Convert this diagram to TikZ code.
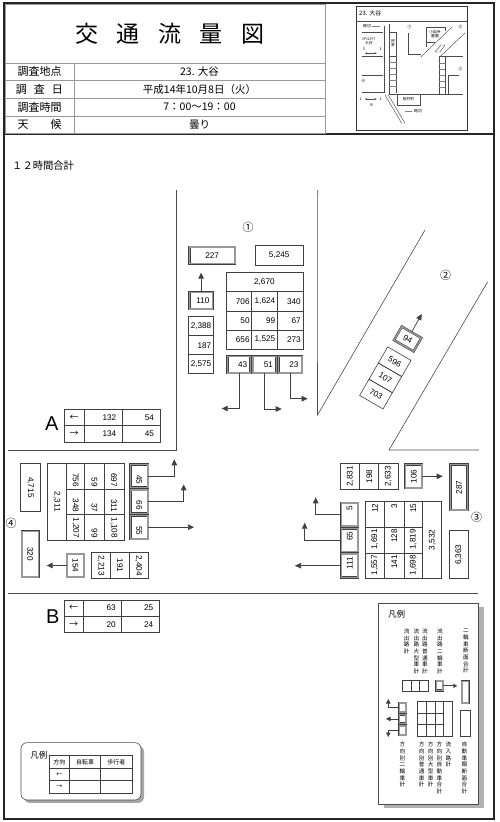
\documentclass[tikz,border=0pt]{standalone}
\usepackage{fontspec}
\setmainfont{Liberation Sans}
\newfontfamily\jp{Noto Sans CJK JP}
\usetikzlibrary{arrows.meta, positioning, shadows}

\begin{document}
\begin{tikzpicture}[
    x=1pt, y=1pt,
    cell/.style 2 args={rectangle, draw=black!75, line width=0.6pt, outer sep=0pt, inner sep=0pt, minimum width=#1, minimum height=#2, align=center, font=\fontsize{8.2}{10}\selectfont},
    rcell/.style 2 args={cell={#1}{#2}, text width=#1-4, align=right},
    tabcell/.style 2 args={cell={#1}{#2}, text width=#1-12, align=right},
    dbl/.style 2 args={cell={#1-2.4}{#2-2.4}, line width=0.5pt, double=black!40, double distance=1.4pt},
    rdbl/.style 2 args={dbl={#1}{#2}, text width=#1-9, align=right},
    headcell/.style 2 args={rectangle, draw=black!40, line width=0.5pt, outer sep=0pt, inner sep=0pt, minimum width=#1, minimum height=#2, align=center, font=\jp\fontsize{10.5}{12}\selectfont},
    labelcell/.style={headcell={69}{#1}, font=\jp\fontsize{11}{13}\selectfont\spaceskip 7pt\relax},
    arrow/.style={-{Triangle[length=6pt,width=5.5pt]}, line width=0.7pt, draw=black!75},
    road/.style={line width=0.6pt, draw=black!70},
    maplabel/.style={inner sep=0pt, align=center, font=\jp\fontsize{3.8}{4.6}\selectfont},
    mapline/.style={line width=0.45pt, draw=black!70},
    rung/.style={line width=0.3pt, draw=black!50},
    circled/.style={inner sep=0pt, font=\jp\fontsize{11}{11}\selectfont},
    letter/.style={inner sep=0pt, font=\fontsize{20}{20}\selectfont},
    vtext/.style={anchor=north, inner sep=0pt, align=center, font=\jp\fontsize{5.6}{6.7}\selectfont},
    small/.style 2 args={cell={#1}{#2}, line width=0.5pt, font=\jp\fontsize{6}{7}\selectfont},
    turncw/.style={rotate=-90},
    turnccw/.style={rotate=90}
]

\useasboundingbox (0,0) rectangle (500,-822);

% Frame
\node[rectangle, draw=black!85, line width=1.3pt, minimum width=490, minimum height=816, outer sep=0pt] (frame) at (249,-411) {};
\coordinate (rule_left) at (4,-134);
\coordinate (rule_right) at (494,-134);
\draw[draw=black!85, line width=1.1pt] (rule_left) -- (rule_right);

% Header
\node[headcell={320}{59}, anchor=north west, font=\jp\fontsize{23}{26}\selectfont\spaceskip 18.5pt\relax] (title) at (5,-4) {\hspace*{10pt}交 通 流 量 図};
\node[labelcell=17.5, below right=0pt and 0pt of title.south west] (lab_place) {調査地点};
\node[labelcell=17.5, below=0pt of lab_place] (lab_date) {調 査 日};
\node[labelcell=18, below=0pt of lab_date] (lab_time) {調査時間};
\node[labelcell=17, below=0pt of lab_time] (lab_sky) {天　　候};
\node[headcell={251}{17.5}, right=0pt of lab_place] (val_place) {23. 大谷};
\node[headcell={251}{17.5}, right=0pt of lab_date] (val_date) {平成14年10月8日（火）};
\node[headcell={251}{18}, right=0pt of lab_time] (val_time) {7：00～19：00};
\node[headcell={251}{17}, right=0pt of lab_sky] (val_sky) {曇り};
\node[anchor=west, inner sep=0pt, font=\jp\fontsize{10.3}{12}\selectfont] (sum_title) at (12,-165.7) {１２時間合計};

% Location map
\node[rectangle, draw=black!80, line width=0.7pt, minimum width=111, minimum height=124, outer sep=0pt] (map) at (411.5,-68) {};
\draw[mapline] (356,-21) -- (467,-21);
\node[anchor=west, inner sep=0pt, font=\jp\fontsize{6}{7}\selectfont] (map_name) at (359,-13.5) {23. 大谷};
\draw[mapline] (361.7,-32.7) -- (383.3,-32.7) (361.7,-75) -- (383.3,-75) (361.7,-92.7) -- (384,-92.7);
\draw[mapline, line width=0.9pt] (361.7,-56.7) -- (383.3,-56.7);
\draw[mapline] (384,-26) -- (384,-92.7) (389,-24) -- (389,-94.3);
\draw[mapline] (389.3,-32.7) rectangle (396.7,-56.7);
\draw[mapline] (396.7,-56.7) -- (396.7,-93);
\draw[rung] (389,-62) -- (396.7,-62) (389,-68) -- (396.7,-68) (389,-74) -- (396.7,-74) (389,-80) -- (396.7,-80) (389,-86) -- (396.7,-86);
\draw[mapline] (408.3,-33) -- (408.3,-54) -- (420.7,-54);
\draw[mapline] (420.7,-57) -- (451.7,-27.3) (440,-56.7) -- (465,-33);
\draw[mapline] (426,-47) -- (426,-27.5) -- (445,-27.5) -- (445,-31);
\draw[mapline] (426,-42) -- (435,-42);
\draw[mapline] (435,-52) -- (441,-45) -- (445,-45) -- (440,-52) -- cycle;
\draw[mapline] (439.3,-56.7) -- (463.3,-56.7);
\draw[mapline] (439.3,-56.7) -- (439.3,-94) (445,-56.7) -- (445,-94);
\draw[rung] (439.3,-63) -- (445,-63) (439.3,-69) -- (445,-69) (439.3,-75) -- (445,-75) (439.3,-81) -- (445,-81) (439.3,-87) -- (445,-87);
\draw[mapline] (448.3,-94) -- (448.3,-75) -- (459.3,-75);
\draw[mapline] (389,-94.3) -- (463.3,-94.3);
\draw[mapline] (397.3,-94.3) -- (397.3,-105.3) -- (420.7,-105.3) -- (420.7,-94.3);
\draw[mapline] (385,-95) -- (401.7,-123.3) (388.3,-95) -- (405,-123.3);
\draw[rung] (405,-111) -- (412,-111);
\draw[rung] (372,-26.5) -- (380,-26.5);
\draw[mapline, line width=0.4pt, {Stealth[length=2pt,width=2pt]}-{Stealth[length=2pt,width=2pt]}] (365,-99) -- (376.7,-99);
\draw[mapline, line width=0.4pt, {Stealth[length=2pt,width=2pt]}-{Stealth[length=2pt,width=2pt]}] (365,-53.3) -- (376.7,-53.3);
\node[maplabel] (map_a) at (371,-26) {踏切\hspace{8pt}};
\node[maplabel, anchor=west] (map_b) at (362,-41) {ﾊﾔｼﾑﾗｲﾌ\\大谷};
\node[maplabel] (map_n3) at (364,-49.3) {3};
\node[maplabel] (map_n1) at (380.7,-49.3) {1};
\node[maplabel] (map_n2) at (360.7,-99) {2};
\node[maplabel] (map_n1b) at (380.7,-99) {1};
\node[maplabel] (map_mark_b) at (371.7,-105) {B};
\node[maplabel] (map_house) at (393,-43) {民\\家};
\node[maplabel] (map_temple) at (435,-34) {小岩寺\\墓園};
\node[maplabel] (map_town) at (408.5,-99) {桜井町};
\node[maplabel] (map_cross) at (418,-111) {踏切};
\node[maplabel] (map_c1) at (409.5,-27.5) {①};
\node[maplabel] (map_c2) at (460.5,-27.5) {②};
\node[maplabel] (map_c3) at (460.5,-69.5) {③};
\node[maplabel] (map_c4) at (363.5,-81) {④};

% Roads
\draw[road] (176,-190) -- (176,-450) -- (8,-450);
\draw[road] (317.7,-190) -- (317.5,-415) -- (425,-230);
\draw[road] (487.7,-281.7) -- (389,-450) -- (479,-450);
\draw[road] (8,-593) -- (478,-593);

% Approach 1
\node[circled] (no1) at (248,-227) {①};
\node[dbl={47.7}{19.3}] (in227) at (212.2,-255.3) {227};
\node[cell={48.3}{19.3}] (cross5245) at (279.2,-255.3) {5,245};
\node[rdbl={25.7}{19}] (bike110) at (201.1,-300.5) {110};
\node[rcell={25}{19}] (out2388) at (200.8,-326.2) {2,388};
\node[rcell={25}{19}, below=0pt of out2388] (out187) {187};
\node[rcell={25}{19}, below=0pt of out187] (out2575) {2,575};
\node[cell={76.8}{19}] (in2670) at (264.4,-282.2) {2,670};
\node[rcell={25.6}{19.1}, below right=0pt and 0pt of in2670.south west] (a706) {706};
\node[rcell={25.6}{19.1}, right=0pt of a706] (a1624) {1,624};
\node[rcell={25.6}{19.1}, right=0pt of a1624] (a340) {340};
\node[rcell={25.6}{19.1}, below=0pt of a706] (a50) {50};
\node[rcell={25.6}{19.1}, right=0pt of a50] (a99) {99};
\node[rcell={25.6}{19.1}, right=0pt of a99] (a67) {67};
\node[rcell={25.6}{19.1}, below=0pt of a50] (a656) {656};
\node[rcell={25.6}{19.1}, right=0pt of a656] (a1525) {1,525};
\node[rcell={25.6}{19.1}, right=0pt of a1525] (a273) {273};
\node[rdbl={25.6}{19}] (b43) at (239,-364.5) {43};
\node[rdbl={25.6}{19}] (b51) at (264.6,-364.5) {51};
\node[rdbl={25.6}{19}] (b23) at (290.2,-364.5) {23};
\coordinate (to110) at (201.1,-272.7);
\coordinate (to43) at (221.7,-408.5);
\coordinate (to51) at (281.7,-409);
\coordinate (to23) at (307.7,-398.7);
\draw[arrow] (bike110.north) -- (to110);
\draw[arrow] (b43.south) |- (to43);
\draw[arrow] (b51.south) |- (to51);
\draw[arrow] (b23.south) |- (to23);

% Approach 2
\node[circled] (no2) at (445.5,-275) {②};
\node[dbl={25}{18}, rotate=-30] (b94) at (407.7,-339) {94};
\node[cell={27}{18.7}, rotate=-30] (c596) at (394.7,-361.7) {596};
\node[cell={27}{18.7}, rotate=-30, anchor=north] (c107) at (c596.south) {107};
\node[cell={27}{18.7}, rotate=-30, anchor=north] (c703) at (c107.south) {703};
\coordinate (to94) at (421.7,-314);
\draw[arrow] (b94.north) -- (to94);

% Table A
\node[letter] (mark_a) at (51.7,-424) {A};
\node[cell={19.7}{16.3}, anchor=north west, font=\jp\fontsize{9}{10}\selectfont] (a_left) at (64.3,-409.3) {←};
\node[tabcell={38.3}{16.3}, right=0pt of a_left] (a_left1) {132};
\node[tabcell={37.7}{16.3}, right=0pt of a_left1] (a_left2) {54};
\node[cell={19.7}{16.3}, below=0pt of a_left, font=\jp\fontsize{9}{10}\selectfont] (a_right) {→};
\node[tabcell={38.3}{16.3}, right=0pt of a_right] (a_right1) {134};
\node[tabcell={37.7}{16.3}, right=0pt of a_right1] (a_right2) {45};

% Approach 4
\node[circled] (no4) at (11,-523) {④};
\node[cell={48}{19.3}, turncw] (cross4715) at (30.3,-487.3) {4,715};
\node[dbl={48.3}{19.3}, turncw] (in320) at (30.3,-554.2) {320};
\node[cell={76.7}{19.4}, turncw] (in2311) at (57,-501.7) {2,311};
\node[rcell={25.6}{18}, turncw] (d756) at (75.7,-476) {756};
\node[rcell={25.6}{19.3}, turncw] (d59) at (94.35,-476) {59};
\node[rcell={25.6}{20}, turncw] (d697) at (114,-476) {697};
\node[rcell={25.6}{18}, turncw] (d348) at (75.7,-501.6) {348};
\node[rcell={25.6}{19.3}, turncw] (d37) at (94.35,-501.6) {37};
\node[rcell={25.6}{20}, turncw] (d311) at (114,-501.6) {311};
\node[rcell={25.6}{18}, turncw] (d1207) at (75.7,-527.2) {1,207};
\node[rcell={25.6}{19.3}, turncw] (d99) at (94.35,-527.2) {99};
\node[rcell={25.6}{20}, turncw] (d1108) at (114,-527.2) {1,108};
\node[rdbl={25.6}{19.7}, turncw] (e45) at (139.2,-476) {45};
\node[rdbl={25.6}{19.7}, turncw] (e66) at (139.2,-501.6) {66};
\node[rdbl={25.6}{19.7}, turncw] (e55) at (139.2,-527.2) {55};
\node[dbl={25.6}{19.6}, turncw] (e154) at (75.5,-565.5) {154};
\node[cell={25.6}{19.4}, turncw] (f2213) at (101,-565.5) {2,213};
\node[cell={25.6}{18.6}, turncw] (f191) at (120,-565.5) {191};
\node[cell={25.6}{19}, turncw] (f2404) at (138.8,-565.5) {2,404};
\coordinate (to45) at (174.3,-459.3);
\coordinate (to66) at (183.7,-484.3);
\coordinate (to55) at (194,-527.2);
\coordinate (to154) at (46.7,-565.5);
\draw[arrow] (e45.north) -| (to45);
\draw[arrow] (e66.north) -| (to66);
\draw[arrow] (e55.north) -- (to55);
\draw[arrow] (e154.south) -- (to154);

% Approach 3
\node[circled] (no3) at (476.7,-517.7) {③};
\node[cell={26}{19}, turnccw] (g2831) at (350.2,-476.3) {2,831};
\node[cell={26}{19}, turnccw] (g198) at (369.2,-476.3) {198};
\node[cell={26}{19.3}, turnccw] (g2633) at (388.3,-476.3) {2,633};
\node[dbl={26}{19.3}, turnccw] (h106) at (413.7,-476.3) {106};
\node[dbl={48}{19.4}, turnccw] (in287) at (459,-487.3) {287};
\node[cell={48}{18.7}, turnccw] (cross6363) at (458.7,-554.7) {6,363};
\node[rcell={25.6}{19.7}, turnccw] (k12) at (374.9,-514.5) {12};
\node[rcell={25.6}{19.3}, turnccw] (k3) at (394.4,-514.5) {3};
\node[rcell={25.6}{18.7}, turnccw] (k15) at (413.4,-514.5) {15};
\node[rcell={25.6}{19.7}, turnccw] (k1691) at (374.9,-540.1) {1,691};
\node[rcell={25.6}{19.3}, turnccw] (k128) at (394.4,-540.1) {128};
\node[rcell={25.6}{18.7}, turnccw] (k1819) at (413.4,-540.1) {1,819};
\node[rcell={25.6}{19.7}, turnccw] (k1557) at (374.9,-565.7) {1,557};
\node[rcell={25.6}{19.3}, turnccw] (k141) at (394.4,-565.7) {141};
\node[rcell={25.6}{18.7}, turnccw] (k1698) at (413.4,-565.7) {1,698};
\node[cell={76.8}{19}, turnccw] (in3532) at (432.2,-540.1) {3,532};
\node[rdbl={25.6}{19.3}, turnccw] (m5) at (349.7,-514.5) {5};
\node[rdbl={25.6}{19.3}, turnccw] (m65) at (349.7,-540.1) {65};
\node[rdbl={25.6}{19.3}, turnccw] (m111) at (349.7,-565.7) {111};
\coordinate (to106) at (442.7,-476.3);
\coordinate (to5) at (315.7,-497.3);
\coordinate (to65) at (304.7,-522.7);
\coordinate (to111) at (295,-565.7);
\draw[arrow] (h106.south) -- (to106);
\draw[arrow] (m5.north) -| (to5);
\draw[arrow] (m65.north) -| (to65);
\draw[arrow] (m111.north) -- (to111);

% Table B
\node[letter] (mark_b) at (52.7,-616.7) {B};
\node[cell={19.3}{16.3}, anchor=north west, font=\jp\fontsize{9}{10}\selectfont] (b_left) at (64,-600) {←};
\node[tabcell={38.4}{16.3}, right=0pt of b_left] (b_left1) {63};
\node[tabcell={37.6}{16.3}, right=0pt of b_left1] (b_left2) {25};
\node[cell={19.3}{16.3}, below=0pt of b_left, font=\jp\fontsize{9}{10}\selectfont] (b_right) {→};
\node[tabcell={38.4}{16.3}, right=0pt of b_right] (b_right1) {20};
\node[tabcell={37.6}{16.3}, right=0pt of b_right1] (b_right2) {24};

% Small legend
\node[rectangle, draw=black!70, rounded corners=6pt, fill=white, line width=0.6pt, minimum width=120, minimum height=57.3, drop shadow={shadow xshift=3pt, shadow yshift=-3pt, fill=black!35, opacity=1}] (legend_s) at (81,-771.3) {};
\node[inner sep=0pt, font=\jp\fontsize{8.5}{9}\selectfont] (legend_s_title) at (39,-755) {凡例};
\node[small={20}{12.5}, anchor=north west] (ls_dir) at (49.3,-755.7) {方向};
\node[small={31.4}{12.5}, right=0pt of ls_dir] (ls_cycle) {自転車};
\node[small={31.3}{12.5}, right=0pt of ls_cycle] (ls_walk) {歩行者};
\node[small={20}{12.5}, below=0pt of ls_dir] (ls_left) {←};
\node[small={31.4}{12.5}, right=0pt of ls_left] (ls_left1) {};
\node[small={31.3}{12.5}, right=0pt of ls_left1] (ls_left2) {};
\node[small={20}{12.5}, below=0pt of ls_left] (ls_right) {→};
\node[small={31.4}{12.5}, right=0pt of ls_right] (ls_right1) {};
\node[small={31.3}{12.5}, right=0pt of ls_right1] (ls_right2) {};

% Large legend
\node[rectangle, draw=black!70, fill=white, line width=0.6pt, minimum width=100, minimum height=201, drop shadow={shadow xshift=5pt, shadow yshift=-4pt, fill=black!30, opacity=1}] (legend_l) at (428.5,-703.5) {};
\node[inner sep=0pt, font=\jp\fontsize{8.5}{9}\selectfont] (legend_l_title) at (396.7,-614) {凡例};
\node[vtext] (txt1) at (466,-628.5) {二\\輪\\車\\断\\面\\合\\計};
\node[vtext] (txt2) at (440,-628.5) {流\\出\\路\\二\\輪\\車\\計};
\node[vtext] (txt3) at (425,-628.5) {流\\出\\路\\普\\通\\車\\計};
\node[vtext] (txt4) at (416.3,-628.5) {流\\出\\路\\大\\型\\車\\計};
\node[vtext] (txt5) at (406.7,-628.5) {流\\出\\路\\計};
\node[small={8.7}{11.7}, anchor=north west] (lg_a) at (402.3,-680) {};
\node[small={8.7}{11.7}, right=0pt of lg_a] (lg_b) {};
\node[small={8.6}{11.7}, right=0pt of lg_b] (lg_c) {};
\node[dbl={9}{11.7}] (lg_bike) at (439.5,-685.8) {};
\node[dbl={9.3}{24}] (lg_total) at (465.3,-692) {};
\node[cell={9.3}{25.3}, line width=0.9pt] (lg_auto) at (465.3,-723.3) {};
\coordinate (lg_to_total) at (457.3,-685.8);
\draw[arrow, -{Triangle[length=4pt,width=4pt]}] (lg_bike.east) -- (lg_to_total);
\node[small={8.4}{11.5}, anchor=north west] (lg_g11) at (417.7,-701.7) {};
\node[small={8.7}{11.5}, right=0pt of lg_g11] (lg_g12) {};
\node[small={8.6}{11.5}, right=0pt of lg_g12] (lg_g13) {};
\node[small={8.4}{11.5}, below=0pt of lg_g11] (lg_g21) {};
\node[small={8.7}{11.5}, right=0pt of lg_g21] (lg_g22) {};
\node[small={8.6}{11.5}, right=0pt of lg_g22] (lg_g23) {};
\node[small={8.4}{11.5}, below=0pt of lg_g21] (lg_g31) {};
\node[small={8.7}{11.5}, right=0pt of lg_g31] (lg_g32) {};
\node[small={8.6}{11.5}, right=0pt of lg_g32] (lg_g33) {};
\node[cell={9}{34.5}, line width=0.9pt, anchor=north west] (lg_in) at (443.3,-701.7) {};
\node[dbl={9}{11.5}] (lg_m1) at (402.5,-707.4) {};
\node[dbl={9}{11.5}] (lg_m2) at (402.5,-718.9) {};
\node[dbl={9}{11.5}] (lg_m3) at (402.5,-730.4) {};
\coordinate (lg_to1) at (388.3,-699);
\coordinate (lg_to2) at (386,-718.9);
\coordinate (lg_to3) at (388.3,-737);
\draw[arrow, -{Triangle[length=4.5pt,width=4.5pt]}] (lg_m1.west) -| (lg_to1);
\draw[arrow, -{Triangle[length=4.5pt,width=4.5pt]}] (lg_m2.west) -- (lg_to2);
\draw[arrow, -{Triangle[length=4.5pt,width=4.5pt]}] (lg_m3.west) -| (lg_to3);
\node[vtext] (txt6) at (464.3,-741.7) {自\\動\\車\\類\\断\\面\\合\\計};
\node[vtext] (txt7) at (448.3,-741.7) {流\\入\\路\\計};
\node[vtext] (txt8) at (439.3,-741.7) {方\\向\\別\\自\\動\\車\\合\\計};
\node[vtext] (txt9) at (430.7,-741.7) {方\\向\\別\\大\\型\\車\\計};
\node[vtext] (txt10) at (421.7,-741.7) {方\\向\\別\\普\\通\\車\\計};
\node[vtext] (txt11) at (402.3,-741.7) {方\\向\\別\\二\\輪\\車\\計};

\end{tikzpicture}
\end{document}
